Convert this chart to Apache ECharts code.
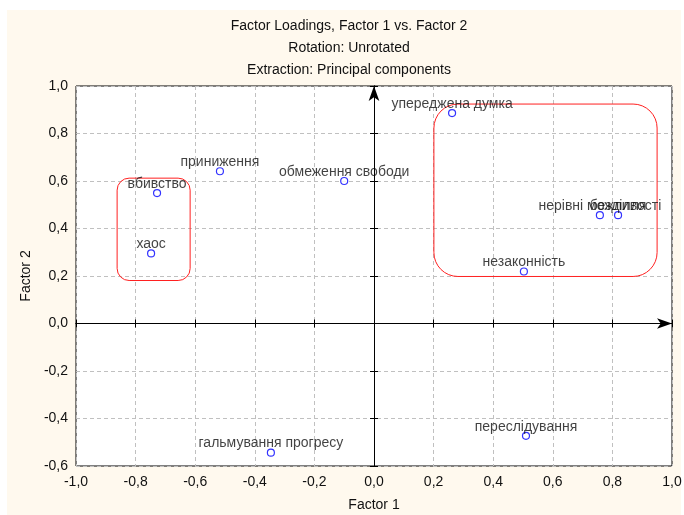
<!DOCTYPE html>
<html>
<head>
<meta charset="utf-8">
<script src="https://cdn.jsdelivr.net/npm/echarts@6/dist/echarts.min.js"></script>
<style>
  html, body { margin: 0; padding: 0; background: #fff; }
  #wrap { position: relative; width: 684px; height: 515px; }
  #paper { position: absolute; left: 7px; top: 10px; width: 674px; height: 505px; background: #fff9ee; }
  #chart { position: absolute; left: 0; top: 0; width: 684px; height: 515px; }
</style>
</head>
<body>
<div id="wrap">
  <div id="paper"></div>
  <div id="chart"></div>
</div>
<script>
// variable names and their loadings
const varNames = ['упереджена думка', 'приниження', 'обмеження свободи', 'вбивство', 'хаос',
                  'нерівні можливості', 'безділля', 'незаконність', 'переслідування', 'гальмування прогресу'];
const factor1 = [0.262, -0.517, -0.100, -0.728, -0.748, 0.758, 0.819, 0.503, 0.510, -0.346];
const factor2 = [0.886, 0.641, 0.600, 0.549, 0.295, 0.456, 0.456, 0.219, -0.473, -0.544];

// hand drawn cluster boxes: [x1, y1, x2, y2]
const clusterBoxes = [
  [-0.862, 0.612, -0.617, 0.181],
  [0.201, 0.924, 0.950, 0.198]
];

const xTicks = { min: -1, max: 1, step: 0.2 };
const yTicks = { min: -0.6, max: 1, step: 0.2 };

const comma = v => v.toFixed(1).replace('.', ',');

let points = varNames.map((n, i) => ({ name: n, value: [factor1[i], factor2[i]] }));

const myChart = echarts.init(document.getElementById('chart'));

const txt = '#111';
const font = 'Liberation Sans';
const baseAxis = {
  type: 'value',
  axisLine: { show: true, lineStyle: { color: '#000' } },
  axisTick: { show: true, inside: true, length: 4, lineStyle: { color: '#000' } },
  splitLine: { show: true, lineStyle: { color: '#c0c0c0', type: [4, 3] } }
};

myChart.setOption({
  backgroundColor: 'transparent',
  animation: false,
  title: {
    text: 'Factor Loadings, Factor 1 vs. Factor 2\nRotation: Unrotated\nExtraction: Principal components',
    left: 344,
    top: 10,
    textAlign: 'center',
    textStyle: { fontFamily: font, fontSize: 14, fontWeight: 'normal', color: txt, lineHeight: 22 }
  },
  grid: {
    left: 76, top: 86, right: 12, bottom: 49,
    outerBoundsMode: 'none',
    containLabel: false,
    show: true, backgroundColor: '#fff', borderColor: '#000', borderWidth: 1
  },
  xAxis: [
    Object.assign({}, baseAxis, {
      min: xTicks.min, max: xTicks.max, interval: xTicks.step,
      name: 'Factor 1', nameLocation: 'middle', nameGap: 32,
      nameTextStyle: { fontFamily: font, fontSize: 14, color: txt },
      axisLabel: { margin: 9, fontFamily: font, fontSize: 14, color: txt, formatter: comma }
    }),
    Object.assign({}, baseAxis, {
      position: 'top', min: xTicks.min, max: xTicks.max, interval: xTicks.step,
      axisLabel: { show: false }, splitLine: { show: false }
    })
  ],
  yAxis: [
    Object.assign({}, baseAxis, {
      min: yTicks.min, max: yTicks.max, interval: yTicks.step,
      name: 'Factor 2', nameLocation: 'middle', nameGap: 38,
      nameTextStyle: { fontFamily: font, fontSize: 14, color: txt },
      axisLabel: { margin: 8, fontFamily: font, fontSize: 14, color: txt, formatter: comma }
    }),
    Object.assign({}, baseAxis, {
      position: 'right', min: yTicks.min, max: yTicks.max, interval: yTicks.step,
      axisLabel: { show: false }, splitLine: { show: false }
    })
  ],
  series: [
    {
      type: 'custom',
      silent: true,
      clip: false,
      z: 3,
      encode: { x: [0, 2], y: [1, 3] },
      data: clusterBoxes,
      renderItem: function (params, api) {
        const a = api.coord([api.value(0), api.value(1)]);
        const b = api.coord([api.value(2), api.value(3)]);
        return {
          type: 'rect',
          shape: { x: a[0], y: a[1], width: b[0] - a[0], height: b[1] - a[1], r: params.dataIndex === 0 ? 12 : 24 },
          style: { fill: 'none', stroke: '#ff2020', lineWidth: 1 }
        };
      }
    },
    {
      type: 'scatter',
      z: 4,
      data: points,
      symbol: 'circle',
      symbolSize: 7,
      itemStyle: { color: '#fff', borderColor: '#0000ff', borderWidth: 1.2 },
      label: {
        show: true, position: 'top', distance: -2,
        formatter: p => p.name,
        fontFamily: font, fontSize: 14, color: txt
      },
      emphasis: { disabled: true },
      markLine: {
        silent: true,
        symbol: ['none', 'arrow'],
        symbolSize: [8, 15],
        label: { show: false },
        lineStyle: { color: '#000', type: 'solid', width: 1 },
        emphasis: { disabled: true },
        data: [{ xAxis: 0 }, { yAxis: 0 }]
      }
    }
  ]
});
</script>
</body>
</html>
